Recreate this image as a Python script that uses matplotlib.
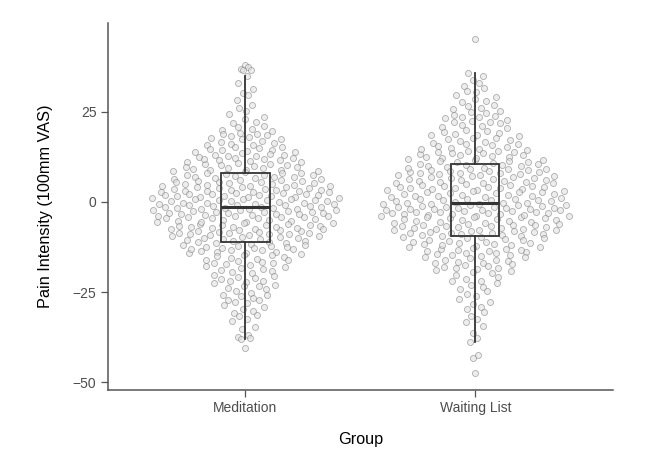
import numpy as np
import matplotlib
matplotlib.use("Agg")
import matplotlib.pyplot as plt

plt.rcParams["font.family"] = ["Liberation Sans", "DejaVu Sans"]

groups = ["Meditation", "Waiting List"]

meditation = [
    37.8, 37.3, 36.9, 36.4, 36.6, 34.7, 32.8, 31.1, 30.2, 29.6, 28.1, 26.7, 25.9, 25.1,
    24.3, 23.6, 22.8, 22.1, 21.7, 21.0, 20.6, 20.2,
    19.8, 19.5, 19.1, 18.7, 18.4, 18.2, 17.9, 17.5, 17.3, 16.9, 16.6, 16.4, 16.1, 15.8,
    15.6, 15.3, 15.1, 17.7, 18.9,
    14.9, 14.6, 14.4, 14.1, 13.9, 13.7, 13.4, 13.1, 12.9, 12.6, 12.4, 12.2, 11.9, 11.7,
    11.5, 11.2, 10.9, 10.8, 10.5, 10.3, 10.1, 14.3, 13.2, 12.7, 11.8, 11.1, 10.6, 12.0,
    9.9, 9.7, 9.5, 9.3, 9.1, 8.9, 8.7, 8.5, 8.3, 8.1, 7.9, 7.7, 7.5, 7.3, 7.1, 6.9, 6.8,
    6.6, 6.4, 6.2, 6.0, 5.8, 5.6, 5.4, 5.2, 5.1, 9.6, 8.8, 8.0, 7.4, 6.7, 6.1, 5.5, 7.0,
    5.9, 8.4,
    4.9, 4.8, 4.6, 4.5, 4.3, 4.1, 4.0, 3.8, 3.7, 3.5, 3.3, 3.2, 3.0, 2.9, 2.7, 2.5, 2.4,
    2.2, 2.1, 1.9, 1.8, 1.6, 1.4, 1.3, 1.1, 1.0, 0.8, 0.6, 0.5, 0.3, 0.2, 0.1, 4.4, 3.6,
    2.8, 2.0, 1.2, 0.4, 3.1, 1.7, 4.7, 2.6, 4.2, 3.4, 2.3, 1.5, 0.7, 0.9,
    -0.1, -0.3, -0.4, -0.6, -0.7, -0.9, -1.0, -1.2, -1.3, -1.5, -1.6, -1.8, -1.9, -2.1,
    -2.2, -2.4, -2.5, -2.7, -2.8, -3.0, -3.1, -3.3, -3.4, -3.6, -3.7, -3.9, -4.0, -4.2,
    -4.3, -4.5, -4.6, -4.8, -4.9, -0.8, -1.7, -2.6, -3.5, -4.4, -1.1, -2.0, -3.2, -4.1,
    -0.5, -2.9, -1.4, -2.3, -3.8, -0.2,
    -5.1, -5.3, -5.4, -5.6, -5.8, -5.9, -6.1, -6.3, -6.4, -6.6, -6.8, -6.9, -7.1, -7.3,
    -7.4, -7.6, -7.8, -7.9, -8.1, -8.3, -8.4, -8.6, -8.8, -8.9, -9.1, -9.3, -9.4, -9.6,
    -9.8, -9.9, -5.5, -6.5, -7.5, -8.5, -9.5, -6.0, -7.0, -8.0, -9.0, -5.7, -7.2, -8.7,
    -10.1, -10.3, -10.6, -10.8, -11.0, -11.3, -11.5, -11.7, -12.0, -12.2, -12.4, -12.7,
    -12.9, -13.1, -13.4, -13.6, -13.8, -14.1, -14.3, -14.5, -14.8, -10.4, -11.1, -11.9,
    -12.6, -13.3, -14.0, -14.7, -10.9, -12.1, -13.0,
    -15.1, -15.4, -15.7, -16.2, -16.5, -16.8, -17.1, -17.4, -17.9, -18.2, -18.5, -18.8,
    -19.1, -19.4, -19.7, -16.0, -17.0, -18.0, -15.5, -16.6,
    -20.2, -20.6, -21.0, -21.4, -21.8, -22.2, -22.6, -23.0, -23.4, -23.8, -24.2, -24.7,
    -20.9, -22.0, -23.3,
    -25.2, -25.7, -26.1, -26.6, -27.1, -27.6, -28.0, -28.5, -29.0, -29.6, -25.9, -27.3,
    -30.3, -30.9, -31.6, -32.4, -33.1, -34.6, -31.2,
    -35.3, -36.9, -37.3, -37.6, -38.0, -40.5,
]

waiting_list = [
    45.0, 35.8, 34.9,
    33.6, 32.9, 32.1, 31.4, 30.8, 30.3,
    29.7, 29.1, 28.6, 28.0, 27.5, 26.9, 26.4, 26.0, 25.6, 25.2,
    24.8, 24.5, 24.1, 23.8, 23.4, 23.1, 22.7, 22.4, 22.0, 21.7, 21.3, 21.0, 20.6, 20.3,
    23.6, 22.2,
    19.8, 19.5, 19.1, 18.8, 18.4, 18.1, 17.8, 17.4, 17.1, 16.8, 16.4, 16.1, 15.8, 15.5,
    15.2, 19.3, 18.6, 17.6, 16.6, 15.9,
    14.9, 14.7, 14.4, 14.2, 13.9, 13.7, 13.4, 13.2, 12.9, 12.7, 12.4, 12.2, 11.9, 11.7,
    11.4, 11.2, 10.9, 10.7, 10.4, 10.2, 14.5, 13.5, 12.5, 11.5, 10.5, 13.0, 12.0, 11.0,
    14.0, 10.1,
    9.9, 9.7, 9.5, 9.2, 9.0, 8.8, 8.6, 8.3, 8.1, 7.9, 7.7, 7.4, 7.2, 7.0, 6.8, 6.5, 6.3,
    6.1, 5.9, 5.6, 5.4, 5.2, 9.4, 8.5, 7.6, 6.7, 5.8, 9.8, 8.9, 8.0, 7.1, 6.2, 5.3, 9.1,
    7.3, 6.0, 8.2, 5.1,
    4.9, 4.7, 4.6, 4.4, 4.2, 4.1, 3.9, 3.7, 3.6, 3.4, 3.2, 3.1, 2.9, 2.7, 2.6, 2.4, 2.2,
    2.1, 1.9, 1.7, 1.6, 1.4, 1.2, 1.1, 0.9, 0.7, 0.6, 0.4, 0.2, 0.1, 4.5, 3.5, 2.5, 1.5,
    0.5, 3.8, 2.8, 1.8, 0.8, 4.0,
    -0.1, -0.2, -0.4, -0.5, -0.7, -0.8, -1.0, -1.1, -1.3, -1.4, -1.6, -1.7, -1.9, -2.0,
    -2.2, -2.3, -2.5, -2.6, -2.8, -2.9, -3.1, -3.2, -3.4, -3.5, -3.7, -3.8, -4.0, -4.1,
    -4.3, -4.4, -4.6, -4.7, -4.9, -0.3, -1.2, -2.1, -3.0, -3.9, -4.8, -0.6, -1.5, -2.4,
    -3.3, -4.2, -0.9, -1.8, -2.7, -3.6,
    -5.1, -5.3, -5.5, -5.7, -5.9, -6.1, -6.3, -6.5, -6.7, -6.9, -7.1, -7.3, -7.5, -7.7,
    -7.9, -8.1, -8.3, -8.5, -8.7, -8.9, -9.1, -9.3, -9.5, -9.7, -9.9, -5.4, -6.0, -6.6,
    -7.2, -7.8, -8.4, -9.0, -9.6, -5.8, -6.8, -7.6, -8.6, -9.4, -6.4, -8.0,
    -10.1, -10.4, -10.7, -11.0, -11.3, -11.6, -11.9, -12.2, -12.5, -12.8, -13.1, -13.4,
    -13.7, -14.0, -14.3, -14.6, -14.9, -10.5, -11.2, -11.8, -12.4, -13.0, -13.6, -14.2,
    -14.8, -10.9, -12.0, -13.3, -14.5, -11.5,
    -15.2, -15.6, -16.0, -16.4, -16.8, -17.2, -17.6, -18.0, -18.4, -18.8, -19.2, -19.6,
    -15.4, -16.2, -17.0, -17.8, -18.6, -19.4, -16.6, -18.2,
    -20.3, -20.8, -21.4, -21.9, -22.5, -23.0, -23.6, -24.1, -24.7, -22.0,
    -25.4, -26.1, -26.9, -27.6, -28.3, -29.1, -29.8,
    -30.6, -31.5, -32.4, -33.3, -34.4,
    -36.2, -37.8, -38.9,
    -42.5, -43.2, -47.5,
]

yticks = [-50, -25, 0, 25]


def van_der_corput(n, base=2):
    seq = []
    for i in range(1, n + 1):
        v, denom, k = 0.0, 1.0, i
        while k:
            k, r = divmod(k, base)
            denom *= base
            v += r / denom
        seq.append(v)
    return np.array(seq)


def quasirandom_offsets(y, width=0.42):
    # offsets like ggbeeswarm::geom_quasirandom (density-scaled van der Corput)
    y = np.asarray(y, dtype=float)
    n = len(y)
    sd = y.std(ddof=1)
    iqr = np.subtract(*np.percentile(y, [75, 25]))
    bw = 0.9 * min(sd, iqr / 1.34) * n ** (-0.2)
    dens = np.exp(-0.5 * ((y[:, None] - y[None, :]) / bw) ** 2).sum(axis=1)
    dens = dens / dens.max()
    ranks = np.argsort(np.argsort(y, kind="stable"), kind="stable")
    vdc = van_der_corput(n)[ranks]
    return (vdc - 0.5) * 2 * width * dens


fig, ax = plt.subplots(figsize=(6.68, 4.53), dpi=100)
fig.subplots_adjust(left=0.161, right=0.918, bottom=0.139, top=0.95)

data = [meditation, waiting_list]
for i, vals in enumerate(data):
    xpos = i + 1 + quasirandom_offsets(vals)
    ax.scatter(xpos, vals, s=19, facecolor="#e2e2e2", edgecolor="#7c7c7c",
               linewidths=0.6, alpha=0.6, zorder=2)

ax.boxplot(data, positions=[1, 2], widths=0.21, showfliers=False,
           patch_artist=True, manage_ticks=False,
           boxprops=dict(facecolor="none", edgecolor="#333333", linewidth=1.3),
           whiskerprops=dict(color="#333333", linewidth=1.3),
           capprops=dict(linewidth=0),
           medianprops=dict(color="#333333", linewidth=2.2),
           zorder=3)

ax.set_xlim(0.4, 2.6)
ax.set_ylim(-52.1, 49.6)
ax.set_xticks([1, 2])
ax.set_xticklabels(groups)
ax.set_yticks(yticks)
ax.set_yticklabels(["\u221250", "\u221225", "0", "25"])

for side in ["top", "right"]:
    ax.spines[side].set_visible(False)
for side in ["left", "bottom"]:
    ax.spines[side].set_color("#555555")
    ax.spines[side].set_linewidth(1.1)

ax.tick_params(axis="both", length=5, width=0.9, color="#555555",
               labelcolor="#4d4d4d", labelsize=10, pad=3)
ax.set_xlabel("Group", fontsize=11.7, labelpad=12)
ax.set_ylabel("Pain Intensity (100mm VAS)", fontsize=11.7, labelpad=14)

fig.savefig("out.png", dpi=100)
